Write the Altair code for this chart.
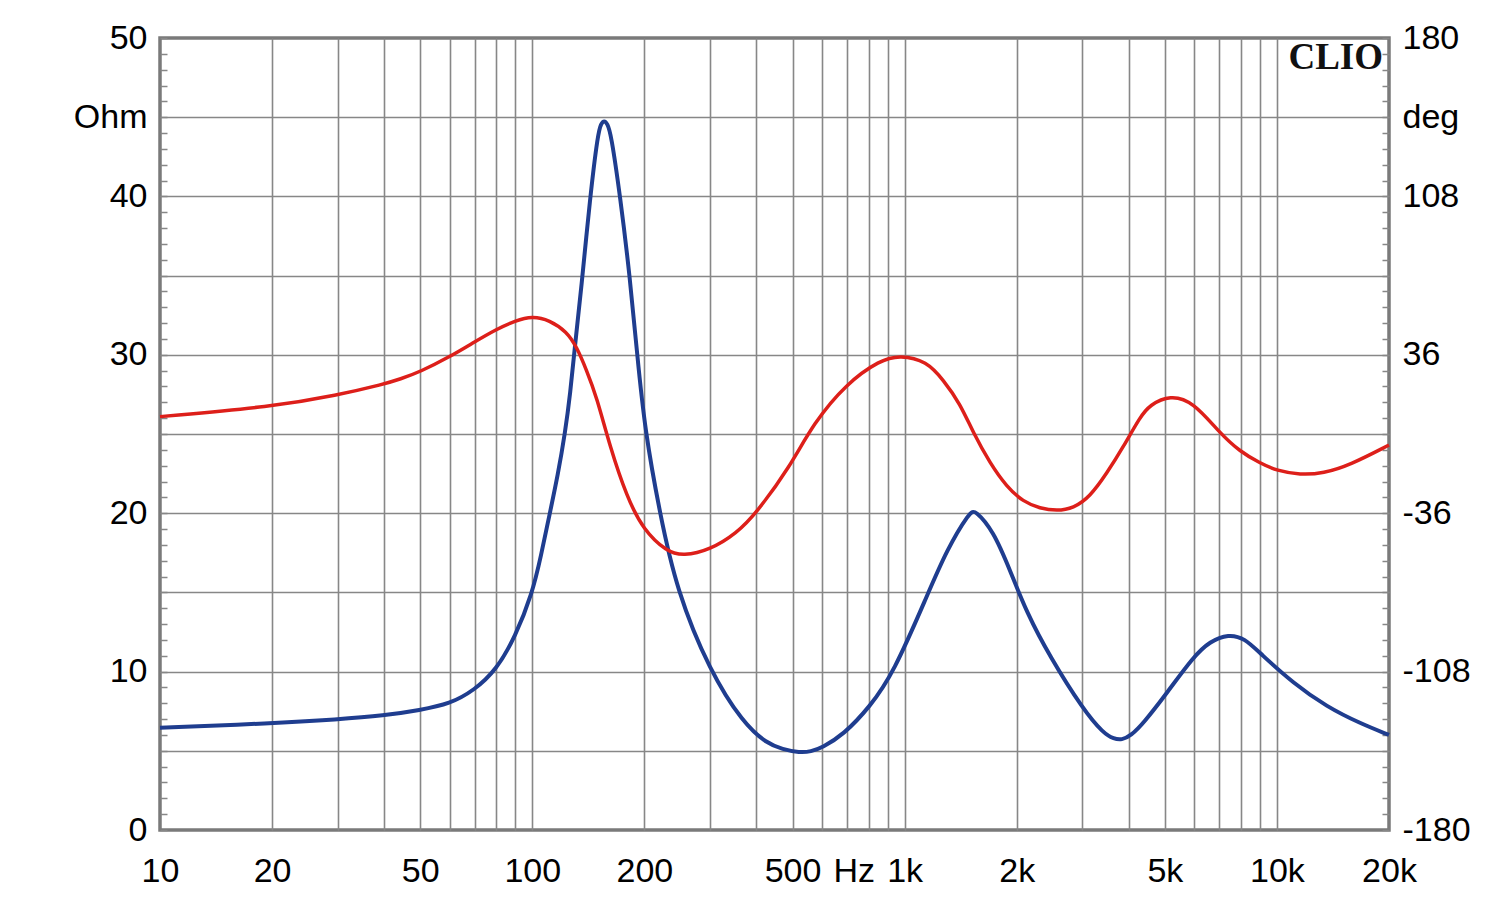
import altair as alt
import pandas as pd

# Impedance (blue), Ohm
imp_freq = [10, 20, 30, 40, 50, 60, 70, 80, 90, 100, 105.5, 111.2, 117.1, 122.5, 126.4, 130.3,
            135.3, 143, 150.1, 153, 156, 159, 162.6, 172.2, 182.9, 191.3, 200.6, 220, 244, 300,
            369, 426, 470, 523, 560, 600, 684, 807, 933, 1145, 1298, 1499, 1545, 1730, 1919,
            2130, 2456, 3020, 3420, 3650, 3829, 4050, 4376, 5057, 5967, 6600, 7413, 8200, 9016,
            11073, 13604, 16730, 20000]
imp_ohm = [6.46, 6.73, 6.98, 7.22, 7.58, 7.95, 8.84, 10.1, 12.2, 14.94, 17.3, 19.9, 22.4, 25.1,
           27.5, 30.7, 34.1, 40.0, 44.0, 44.6, 44.8, 44.6, 44.0, 40.0, 34.9, 30.0, 25.25, 20.0,
           15.15, 10.0, 6.73, 5.47, 5.1, 4.88, 4.95, 5.2, 6.0, 7.78, 9.9, 14.7, 17.7, 20.1, 20.2,
           18.9, 16.4, 13.7, 10.94, 7.58, 6.1, 5.75, 5.68, 5.95, 6.73, 8.63, 10.94, 11.9, 12.37,
           12.1, 11.15, 9.26, 7.78, 6.73, 6.0]

# Phase (red), degrees
ph_freq = [10, 20, 30, 40, 44.1, 50, 60, 70, 80, 90, 100, 111.2, 123.7, 131.5, 139.8, 148.8,
           161.7, 179.3, 198.7, 229.6, 254.4, 300, 354, 400, 492, 569, 698, 859, 972, 1147,
           1271, 1409, 1531, 1696, 1879, 2083, 2310, 2562, 2840, 3148, 3491, 3870, 4290, 4558,
           5166, 5960, 7035, 7961, 9016, 10000, 11540, 13330, 15720, 20000]
ph_deg = [7.9, 12.4, 17.7, 22.7, 24.9, 28.3, 35.1, 41.9, 47.6, 51.5, 53.6, 51.8, 46.5, 39.7,
          29.1, 17.0, -5.8, -28.5, -43.6, -53.5, -55.5, -52.7, -45.1, -35.9, -14.9, 4.9, 23.0,
          33.6, 35.9, 33.1, 24.5, 13.9, 0.3, -13.3, -24.0, -30.8, -33.8, -35.0, -33.8, -28.5,
          -17.9, -5.8, 7.8, 13.2, 17.7, 14.7, 0.3, -8.0, -13.3, -16.7, -18.6, -17.9, -14.1,
          -5.0]

x_grid = [m * 10 ** e for e in range(1, 5) for m in range(1, 10)] + [20000, 730]
x_labels = {10: "10", 20: "20", 50: "50", 100: "100", 200: "200", 500: "500", 730: "Hz",
            1000: "1k", 2000: "2k", 5000: "5k", 10000: "10k", 20000: "20k"}
ohm_ticks = list(range(0, 51))
deg_ticks = [round(-180 + 7.2 * i, 1) for i in range(51)]
deg_labels = [-180, -108, -36, 36, 108, 180]

x_expr = " : ".join(f"datum.value == {k} ? '{v}'" for k, v in x_labels.items()) + " : ''"
y_expr = "datum.value == 45 ? 'Ohm' : (datum.value % 10 == 0 ? datum.label : '')"
d_expr = ("abs(datum.value - 144) < 0.01 ? 'deg' : (indexof(" + str(deg_labels) +
          ", round(datum.value)) >= 0 && abs(datum.value - round(datum.value)) < 0.01 ? "
          "toString(round(datum.value)) : '')")

FONT = "Liberation Sans"
GRID = "#878787"

df_imp = pd.DataFrame({"f": imp_freq, "ohm": imp_ohm})
df_ph = pd.DataFrame({"f": ph_freq, "deg": ph_deg})

xscale = alt.Scale(type="log", domain=[10, 20000], nice=False)

blue = alt.Chart(df_imp).mark_line(color="#1f3d8f", strokeWidth=4, interpolate="basis").encode(
    x=alt.X("f:Q", scale=xscale, title=None,
            axis=alt.Axis(values=x_grid, grid=True, ticks=False, domain=False,
                          gridColor=GRID, gridWidth=1.6,
                          gridOpacity={"condition": {"test": "datum.value == 730 || datum.value <= 10 || datum.value >= 20000", "value": 0}, "value": 1},
                          labelExpr=x_expr, labelFont=FONT, labelFontSize=34, labelColor="#000",
                          labelPadding=24, labelOverlap=False, labelFlush=False)),
    y=alt.Y("ohm:Q", scale=alt.Scale(domain=[0, 50], nice=False, zero=False), title=None,
            axis=alt.Axis(orient="left", values=ohm_ticks, grid=True, domain=False,
                          gridColor=GRID, gridWidth=1.6,
                          gridOpacity={"condition": {"test": "datum.value % 5 == 0 && datum.value > 0 && datum.value < 50", "value": 1}, "value": 0},
                          ticks=True, tickSize={"expr": "-7"}, tickColor=GRID, tickWidth=1.5,
                          labelExpr=y_expr, labelFont=FONT, labelFontSize=34, labelColor="#000",
                          labelPadding=20, labelOverlap=False, labelFlush=False)),
)

red = alt.Chart(df_ph).mark_line(color="#dd1f1a", strokeWidth=3.5, interpolate="basis").encode(
    x=alt.X("f:Q", scale=xscale),
    y=alt.Y("deg:Q", scale=alt.Scale(domain=[-180, 180], nice=False, zero=False), title=None,
            axis=alt.Axis(orient="right", values=deg_ticks, grid=False, domain=False,
                          ticks=True, tickSize={"expr": "-7"}, tickColor=GRID, tickWidth=1.5,
                          labelExpr=d_expr, labelFont=FONT, labelFontSize=34, labelColor="#000",
                          labelPadding=20, labelOverlap=False, labelFlush=False)),
)

clio = alt.Chart(pd.DataFrame({"t": ["CLIO"]})).mark_text(
    align="right", baseline="middle", font="Liberation Serif", fontWeight="bold",
    fontSize=37, color="#111").encode(
    x=alt.value(1223), y=alt.value(20), text="t:N")

chart = alt.layer(blue, red, clio).resolve_scale(y="independent").properties(
    width=1229, height=792,
    autosize=alt.AutoSizeParams(type="none"),
    padding={"left": 160, "top": 38, "right": 111, "bottom": 76},
    background="white",
).configure_view(stroke="#7a7a7a", strokeWidth=3.5)

chart.save("out.html", embed_options={"renderer": "svg", "actions": False})
